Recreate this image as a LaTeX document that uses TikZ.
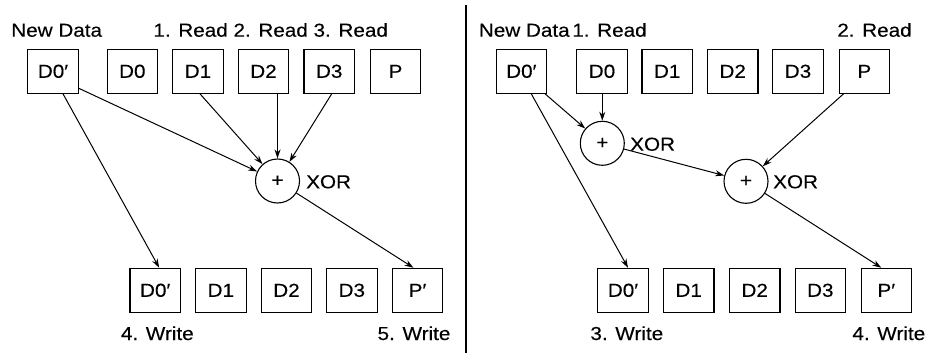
\documentclass[tikz,border=0pt]{standalone}
\usepackage{fontspec}
\setmainfont[FakeStretch=1.1,FakeBold=0.25]{Liberation Sans}
\usetikzlibrary{arrows.meta}
\begin{document}
\begin{tikzpicture}[x=1pt,y=-1pt,
  font=\fontsize{18.8}{22}\selectfont,
  cell/.style={draw, line width=1.1pt, minimum width=50.5pt, minimum height=44pt, inner sep=0pt},
  xorgate/.style={draw, circle, line width=1.1pt, minimum size=44pt, inner sep=0pt},
  lbl/.style={inner sep=0pt, anchor=base},
  lblw/.style={inner sep=0pt, anchor=base west},
  arr/.style={line width=1pt, -{Stealth[length=9pt,width=6pt]}}]
\useasboundingbox (0,0) rectangle (933,353);
% divider
\coordinate (divtop) at (465.7,5);
\coordinate (divbot) at (465.7,353);
\draw[line width=1.6pt] (divtop) -- (divbot);

% ---------- left panel ----------
\node[lbl] (lNew) at (56.7,36.7) {New Data};
\node[lbl] (lRead) at (270.7,36.7) {1. Read 2. Read 3. Read};
\node[cell] (lD0p) at (53,71.3) {D0′};
\node[cell] (lD0) at (132.3,71.3) {D0};
\node[cell] (lD1) at (198,71.3) {D1};
\node[cell] (lD2) at (263.5,71.3) {D2};
\node[cell] (lD3) at (329.2,71.3) {D3};
\node[cell] (lP) at (395.5,71.3) {P};
\node[xorgate] (lX) at (277.5,181) {+};
\node[lblw] (lXl) at (306,188.3) {XOR};
\node[cell] (lbD0p) at (155.2,290.3) {D0′};
\node[cell] (lbD1) at (220.8,290.3) {D1};
\node[cell] (lbD2) at (286.5,290.3) {D2};
\node[cell] (lbD3) at (351.8,290.3) {D3};
\node[cell] (lbP) at (417.5,290.3) {P′};
\node[lbl] (lW4) at (157.3,340) {4. Write};
\node[lbl] (lW5) at (414,340) {5. Write};

\draw[arr] ([xshift=10pt]lD0p.south) -- ([xshift=4pt]lbD0p.north);
\draw[arr] ([yshift=-17pt]lD0p.east) -- (lX);
\draw[arr] ([xshift=2pt]lD1.south) -- (lX);
\draw[arr] (lX.north |- lD2.south) -- (lX);
\draw[arr] ([xshift=2.5pt]lD3.south) -- (lX);
\draw[arr] (lX) -- ([xshift=-4pt]lbP.north);

% ---------- right panel ----------
\node[lbl] (rNew) at (524.3,36.7) {New Data};
\node[lbl] (rR1) at (609.5,36.7) {1. Read};
\node[lbl] (rR2) at (874.5,36.7) {2. Read};
\node[cell] (rD0p) at (521.3,71.3) {D0′};
\node[cell] (rD0) at (602,71.3) {D0};
\node[cell] (rD1) at (667.2,71.3) {D1};
\node[cell] (rD2) at (732.7,71.3) {D2};
\node[cell] (rD3) at (798,71.3) {D3};
\node[cell] (rP) at (864.3,71.3) {P};
\node[xorgate] (rX1) at (602.3,143.3) {+};
\node[lblw] (rX1l) at (630,150.7) {XOR};
\node[xorgate] (rX2) at (746,181.3) {+};
\node[lblw] (rX2l) at (773,188.3) {XOR};
\node[cell] (rbD0p) at (623,290.3) {D0′};
\node[cell] (rbD1) at (688.7,290.3) {D1};
\node[cell] (rbD2) at (754.7,290.3) {D2};
\node[cell] (rbD3) at (820.3,290.3) {D3};
\node[cell] (rbP) at (886.3,290.3) {P′};
\node[lbl] (rW3) at (626.8,340) {3. Write};
\node[lbl] (rW4) at (888.8,340) {4. Write};

\draw[arr] ([xshift=10pt]rD0p.south) -- ([xshift=5pt]rbD0p.north);
\draw[arr] ([xshift=-2pt]rD0p.south east) -- (rX1);
\draw[arr] (rX1.north |- rD0.south) -- (rX1);
\draw[arr] (rX1) -- (rX2);
\draw[arr] ([xshift=5pt]rP.south west) -- (rX2);
\draw[arr] (rX2) -- ([xshift=-5pt]rbP.north);
\end{tikzpicture}
\end{document}
